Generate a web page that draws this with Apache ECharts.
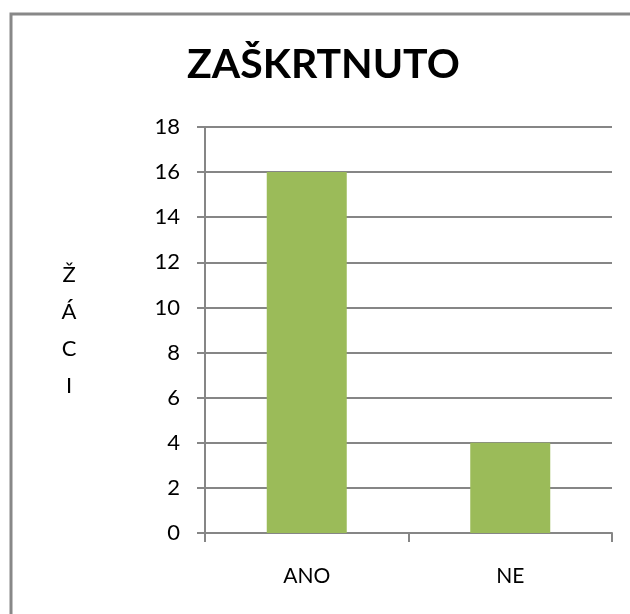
<!DOCTYPE html>
<html>
	<head>
		<meta charset="utf-8">
		<title>ZAŠKRTNUTO</title>
		<script src="https://cdn.jsdelivr.net/npm/echarts@6/dist/echarts.min.js"></script>
		<style>
			html, body { margin: 0; padding: 0; background: #fff; }
		</style>
	</head>
	<body>
		<div id="main" style="width: 630px;height:614px;"></div>
		<script type="text/javascript">
			// data
			var categories = ['ANO', 'NE'];
			var values = [16, 4];
			var yTicks = { min: 0, max: 18, interval: 2 };

			var myChart = echarts.init(document.getElementById('main'));
			var font = 'Lato, "Open Sans", sans-serif';

			var option = {
				animation: false,
				backgroundColor: '#fff',
				title: {
					text: 'ZAŠKRTNUTO',
					left: 182,
					top: 39,
					textStyle: { fontFamily: font, fontWeight: 'bold', fontSize: 41, color: '#000' }
				},
				// outer chart frame (runs off the right and bottom edges)
				graphic: [{
					type: 'rect',
					shape: { x: 11, y: 14, width: 640, height: 620 },
					style: { fill: null, stroke: '#888', lineWidth: 3 },
					silent: true
				}],
				grid: { left: 205, top: 127, right: 18, bottom: 81 },
				xAxis: {
					type: 'category',
					data: categories,
					axisLine: { lineStyle: { color: '#868686', width: 2 } },
					axisTick: { show: true, length: 9, lineStyle: { color: '#868686', width: 2 } },
					axisLabel: { fontFamily: font, fontSize: 21, color: '#000', margin: 33 }
				},
				yAxis: {
					type: 'value',
					min: yTicks.min,
					max: yTicks.max,
					interval: yTicks.interval,
					name: 'Ž\nÁ\nC\nI',
					nameLocation: 'middle',
					nameRotate: 0,
					nameGap: 136,
					nameTextStyle: { fontFamily: font, fontSize: 22, color: '#000', lineHeight: 37, align: 'center' },
					axisLine: { show: true, lineStyle: { color: '#868686', width: 2 } },
					axisTick: { show: true, length: 8, lineStyle: { color: '#868686', width: 2 } },
					axisLabel: { fontFamily: font, fontSize: 22, color: '#000', margin: 25 },
					splitLine: { lineStyle: { color: '#868686', width: 2 } }
				},
				series: [{
					type: 'bar',
					data: values,
					barWidth: 80,
					itemStyle: { color: '#9BBB59' }
				}]
			};

			option && myChart.setOption(option);
		</script>
	</body>
</html>
